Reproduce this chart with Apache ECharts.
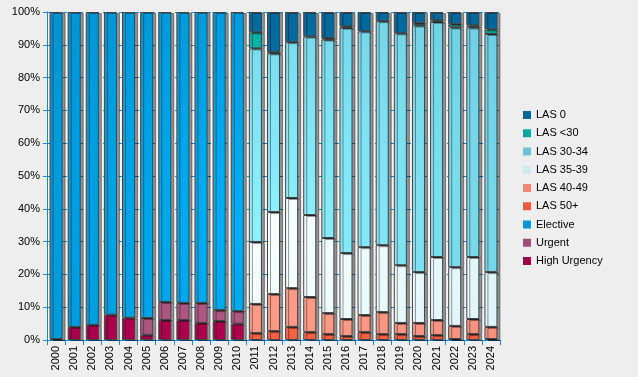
<!DOCTYPE html>
<html>
<head>
<meta charset="utf-8">
<script src="https://cdn.jsdelivr.net/npm/echarts@6/dist/echarts.min.js"></script>
<style>
  html, body { margin: 0; padding: 0; background: #eeeeee; }
  #chart { width: 638px; height: 377px; }
</style>
</head>
<body>
<div id="chart"></div>
<script>
// categories
var years = ['2000', '2001', '2002', '2003', '2004', '2005', '2006', '2007', '2008', '2009', '2010',
    '2011', '2012', '2013', '2014', '2015', '2016', '2017', '2018', '2019', '2020', '2021', '2022', '2023', '2024'];

// share of transplants per year, in percent (stack order bottom -> top)
var highUrgency = [0.3, 4.0, 4.6, 7.7, 6.8, 1.6, 6.1, 6.1, 5.2, 5.8, 5.0,
    null, null, null, null, null, null, null, null, null, null, null, null, null, null];
var urgent = [null, null, null, null, null, 5.1, 5.5, 5.2, 6.1, 3.3, 3.8,
    null, null, null, null, null, null, null, null, null, null, null, null, null, null];
var elective = [99.7, 96.0, 95.4, 92.3, 93.2, 93.3, 88.4, 88.7, 88.7, 90.9, 91.2,
    null, null, null, null, null, null, null, null, null, null, null, null, null, null];
var las50 = [null, null, null, null, null, null, null, null, null, null, null,
    2.1, 2.7, 4.0, 2.4, 1.8, 1.2, 2.4, 1.8, 1.8, 1.2, 1.5, 0.3, 1.8, 0.3];
var las4049 = [null, null, null, null, null, null, null, null, null, null, null,
    8.9, 11.3, 11.8, 10.7, 6.4, 5.2, 5.2, 6.7, 3.4, 4.0, 4.6, 4.0, 4.6, 3.7];
var las3539 = [null, null, null, null, null, null, null, null, null, null, null,
    18.9, 25.0, 27.5, 25.0, 22.9, 20.1, 20.7, 20.4, 17.6, 15.5, 19.2, 17.9, 18.9, 16.7];
var las3034 = [null, null, null, null, null, null, null, null, null, null, null,
    59.0, 48.4, 47.5, 54.4, 60.5, 68.7, 65.8, 68.3, 70.7, 75.2, 71.7, 73.1, 70.0, 72.6];
var lasUnder30 = [null, null, null, null, null, null, null, null, null, null, null,
    4.9, 0.3, null, null, 0.4, 0.4, null, null, null, 0.7, 0.4, 1.0, 0.6, 1.4];
var las0 = [null, null, null, null, null, null, null, null, null, null, null,
    6.2, 12.3, 9.2, 7.5, 8.0, 4.4, 5.9, 2.8, 6.5, 3.4, 2.6, 3.7, 4.1, 5.3];

var yTicks = [0, 10, 20, 30, 40, 50, 60, 70, 80, 90, 100];

(function () {

    var chart = echarts.init(document.getElementById('chart'));

    // light centre, darker edges (the reference has a soft spotlight)
    function shade(light, dark) {
        return new echarts.graphic.RadialGradient(265, 230, 330, [
            { offset: 0, color: light },
            { offset: 1, color: dark }
        ], true);
    }

    var blue = '#0a8ad6';

    // name, data, gradient light, gradient dark, legend colour
    var defs = [
        ['High Urgency', highUrgency, '#b4004f', '#a0004a', '#a0004a'],
        ['Urgent', urgent, '#b45a86', '#a04f7a', '#a04d7b'],
        ['Elective', elective, '#00b2f8', '#0090ce', '#0095d5'],
        ['LAS 50+', las50, '#ff6444', '#f05a42', '#f05a40'],
        ['LAS 40-49', las4049, '#ffa08a', '#f28d7c', '#f08878'],
        ['LAS 35-39', las3539, '#f8ffff', '#d6f1f8', '#cce9f5'],
        ['LAS 30-34', las3034, '#8ef2ff', '#6ccbe0', '#6cc5d6'],
        ['LAS <30', lasUnder30, '#00c2b2', '#00a99d', '#00a99d'],
        ['LAS 0', las0, '#0072a8', '#006699', '#006699']
    ];

    var series = defs.map(function (d) {
        return {
            name: d[0],
            type: 'bar',
            stack: 'total',
            barWidth: '72%',
            data: d[1],
            itemStyle: {
                color: shade(d[2], d[3]),
                borderColor: '#444444',
                borderWidth: 1,
                shadowColor: 'rgba(0,0,0,0.4)',
                shadowOffsetX: 3,
                shadowOffsetY: 1,
                shadowBlur: 0
            },
            emphasis: { disabled: true }
        };
    });

    var legendData = defs.slice().reverse().map(function (d) {
        return { name: d[0], itemStyle: { color: d[4], borderWidth: 0, shadowColor: 'transparent' } };
    });

    var option = {
        backgroundColor: '#eeeeee',
        animation: false,
        textStyle: { fontFamily: 'Liberation Sans, Arial, sans-serif' },
        grid: {
            left: 47, right: 138, top: 12, bottom: 37,
            show: true, backgroundColor: '#f4f4f4', borderWidth: 0
        },
        legend: {
            orient: 'vertical',
            left: 523,
            top: 109,
            padding: 0,
            itemWidth: 8,
            itemHeight: 8,
            itemGap: 6.25,
            itemTextGap: 7,
            icon: 'rect',
            data: legendData,
            textStyle: { fontSize: 11, color: '#000', lineHeight: 12 }
        },
        xAxis: {
            type: 'category',
            data: years,
            axisLine: { lineStyle: { color: blue, width: 1 } },
            axisTick: { show: true, length: 5, lineStyle: { color: blue } },
            axisLabel: { rotate: 90, fontSize: 11, color: '#000', margin: 6 }
        },
        yAxis: {
            type: 'value',
            min: yTicks[0],
            max: yTicks[yTicks.length - 1],
            interval: 10,
            axisLine: { show: true, lineStyle: { color: blue, width: 1 } },
            axisTick: { show: true, length: 4, lineStyle: { color: blue } },
            axisLabel: { formatter: '{value}%', fontSize: 11, color: '#000', margin: 7 },
            splitLine: { show: true, lineStyle: { color: blue, type: [4, 4] } }
        },
        series: series
    };

    chart.setOption(option);
})();
</script>
</body>
</html>
